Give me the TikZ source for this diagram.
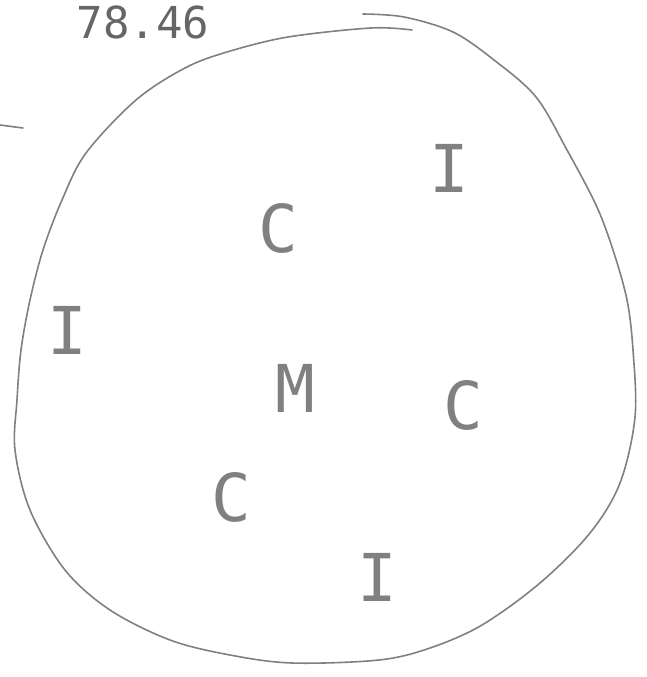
\documentclass[tikz,border=0pt]{standalone}
\usepackage{fontspec}
\setmonofont{DejaVu Sans Mono}
\usepackage{xcolor}
\usepackage{tikz}

\definecolor{pencil}{gray}{0.5}

\begin{document}
\begin{tikzpicture}[
      x=1pt, y=-1pt,
      rim/.style={draw=pencil, line width=1.6pt, line cap=round, line join=round},
      glyph/.style={text=pencil, inner sep=0pt, font=\ttfamily\fontsize{66}{66}\selectfont},
      tag/.style={text=pencil!80!black, inner sep=0pt, anchor=base, font=\ttfamily\fontsize{44}{44}\selectfont}
    ]
    \useasboundingbox (0,0) rectangle (646,677);

    % score written above the sketch
    \node[tag] (score) at (143,38) {78.46};

    % the hand drawn outline
    \draw[rim] plot[smooth, tension=0.55] coordinates {
      (363,14) (404,17) (453,32) (494,60) (536,97) (567,150) (596,205)
      (613,250) (627,300) (633,350) (635,417) (620,483) (590,533)
      (540,583) (482,625) (430,648) (379,660) (292,663) (230,655)
      (170,640) (110,610) (65,570) (30,510) (15,450) (17,400) (21,350)
      (30,300) (43,250) (62,200) (86,153) (136,100) (185,68) (227,52)
      (288,37) (371,28) (412,30)};
    \draw[rim] (0,125) -- (23,128);

    % letters inside
    \node[glyph] (itop)  at (449,168) {I};
    \node[glyph] (cup)   at (278,228) {C};
    \node[glyph] (ileft) at (67,330)  {I};
    \node[glyph] (mid)   at (295,388) {M};
    \node[glyph] (cright) at (463,405) {C};
    \node[glyph] (clow)  at (231,497) {C};
    \node[glyph] (ibot)  at (377,577) {I};
  \end{tikzpicture}
\end{document}
